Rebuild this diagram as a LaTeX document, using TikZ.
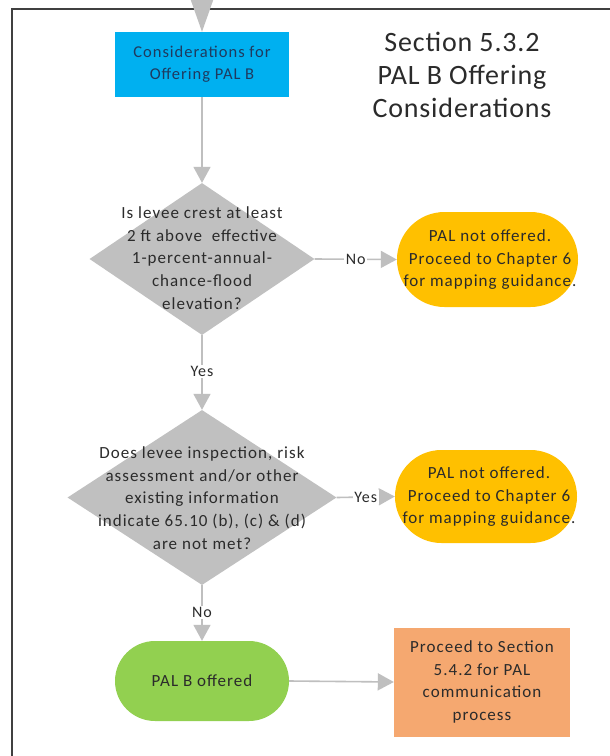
\documentclass[tikz,border=0pt]{standalone}
\usepackage{fontspec}
\setmainfont{Carlito}
\newfontfamily\spaced[LetterSpace=6]{Carlito}
\newfontfamily\tspaced[LetterSpace=3]{Carlito}
\usetikzlibrary{shapes.geometric,shapes.misc,arrows.meta}
\definecolor{cblue}{HTML}{00B0F0}
\definecolor{cgold}{HTML}{FFC000}
\definecolor{cgreen}{HTML}{92D050}
\definecolor{corange}{HTML}{F5A870}
\definecolor{cgray}{HTML}{BFBFBF}
\definecolor{cdia}{HTML}{C0C0C0}
\definecolor{ctext}{HTML}{2B2B2B}
\definecolor{cnavy}{HTML}{1F3A5F}
\definecolor{cframe}{HTML}{404040}
\tikzset{
  x=1pt,y=-1pt,
  conn/.style={draw=cgray,line width=1.6pt,-{Triangle[length=16pt,width=17pt]}},
  bigconn/.style={draw=cgray,line width=1.6pt,-{Triangle[length=36pt,width=25pt]}},
  dia/.style={diamond,fill=cdia,draw=none,inner sep=0pt},
  diatext/.style={align=center,text=ctext,font=\spaced\fontsize{17}{22.8}\selectfont},
  ovalbox/.style={rounded rectangle,fill=cgold,draw=none,inner sep=0pt},
  ovaltext/.style={align=center,text=ctext,font=\spaced\fontsize{17}{22.5}\selectfont},
  lbl/.style={fill=white,inner sep=1.5pt,text=ctext,font=\spaced\fontsize{16}{18}\selectfont},
}
\begin{document}
\begin{tikzpicture}
\useasboundingbox (0,0) rectangle (610,756);
\fill[white] (0,0) rectangle (610,756);
% frame
\draw[cframe,line width=2pt] (12,756) -- (12,9) -- (610,9);
% title
\node[align=center,text=ctext,font=\tspaced\fontsize{28}{33}\selectfont] (title) at (462,75) {Section 5.3.2\\PAL B Offering\\Considerations};
% blue box
\node[fill=cblue,minimum width=174pt,minimum height=65pt,inner sep=0pt,align=center,text=cnavy,font=\spaced\fontsize{16.5}{22}\selectfont] (start) at (202,64.5) {Considerations for\\Offering PAL B};
\coordinate (topin) at (202,-10);
\draw[bigconn] (topin) -- (start.north);
% diamond 1
\node[dia,minimum width=225pt,minimum height=152pt] (d1) at (202,259) {};
\node[diatext] (d1t) at (202,258) {Is levee crest at least\\2 ft above~ effective\\1-percent-annual-\\chance-flood\\elevation?};
% oval 1
\node[ovalbox,minimum width=181pt,minimum height=95pt] (o1) at (487.5,259.5) {};
\node[ovaltext] (o1t) at (490,260) {PAL not offered.\\Proceed to Chapter 6\\for mapping guidance.};
% diamond 2
\node[dia,minimum width=269pt,minimum height=175pt] (d2) at (202,497.5) {};
\node[diatext] (d2t) at (202,498) {Does levee inspection, risk\\assessment and/or other\\existing information\\indicate 65.10 (b), (c) \& (d)\\are not met?};
% oval 2
\node[ovalbox,minimum width=182pt,minimum height=93pt] (o2) at (486,496.5) {};
\node[ovaltext] (o2t) at (489,497) {PAL not offered.\\Proceed to Chapter 6\\for mapping guidance.};
% green oval
\node[rounded rectangle,fill=cgreen,draw=none,inner sep=0pt,minimum width=174pt,minimum height=80pt,text=ctext,font=\spaced\fontsize{17}{20}\selectfont] (g) at (202,681) {PAL B offered};
% orange box
\node[fill=corange,minimum width=176pt,minimum height=109pt,inner sep=0pt,align=center,text=ctext,font=\spaced\fontsize{17}{22.5}\selectfont] (p) at (482,682) {Proceed to Section\\5.4.2 for PAL\\communication\\process};
% connectors
\draw[conn] (start.south) -- (d1.north);
\draw[conn] (d1.east) -- node[lbl] {No} (o1.west);
\draw[conn] (d1.south) -- node[lbl,pos=0.49] {Yes} (d2.north);
\draw[conn] (d2.east) -- node[lbl,pos=0.5] {Yes} (o2.west);
\draw[conn] (d2.south) -- node[lbl,pos=0.49] {No} (g.north);
\draw[conn] (g.east) -- (p.west);
\end{tikzpicture}
\end{document}
